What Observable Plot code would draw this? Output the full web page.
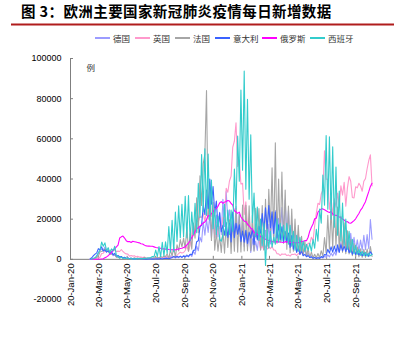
<!DOCTYPE html>
<html><head><meta charset="utf-8">
<script src="https://cdn.jsdelivr.net/npm/d3@7"></script>
<script src="https://cdn.jsdelivr.net/npm/@observablehq/plot@0.6"></script>
<style>
body{margin:0;background:#fff;}
#wrap{position:relative;width:394px;height:354px;overflow:hidden;background:#fff;}
#wrap > svg.chart{position:absolute;left:0;top:0;z-index:0;}
#title{position:absolute;left:21px;top:2px;font:bold 14.5px "Noto Sans CJK SC",sans-serif;letter-spacing:0.4px;color:#000;white-space:nowrap;z-index:2;line-height:18px;}
#rule{position:absolute;left:0;top:0;z-index:5;}
.lgl{position:absolute;top:37px;width:15px;height:2px;z-index:2;}
.lgt{position:absolute;top:32px;font:8.5px "Noto Sans CJK SC",sans-serif;color:#333;line-height:12px;white-space:nowrap;z-index:2;}
</style></head>
<body><div id="wrap"><div id="title">图 3：欧洲主要国家新冠肺炎疫情每日新增数据</div>
<svg id="rule" width="394" height="30"><line x1="11" x2="394" y1="24.5" y2="24.5" stroke="#b01c1c" stroke-width="2"/></svg></div>
<script>
// daily new cases (thousands), sampled every 3.5 days starting 2020-03-02
const seriesNames = ["德国","英国","法国","意大利","俄罗斯","西班牙"];
const seriesColors = ["#9c9cff","#ff99cc","#a6a6a6","#3a62ff","#ff00ff","#33cccc"];
const de = [
0.03,0.1, 0.2,0.8, 1.2,2.9, 4.5,5.0, 4.6,6.2, 3.7,4.9, 2.5,3.4, 1.8,2.3, 1.0,1.5, 0.7,1.2,
0.5,0.9, 0.3,0.6, 0.3,0.5, 0.2,0.4, 0.2,0.5, 0.4,0.8, 0.5,0.6, 0.3,0.5, 0.2,0.4, 0.2,0.5,
0.3,0.6, 0.4,0.9, 0.5,1.0, 0.6,1.4, 0.7,1.7, 0.7,1.5, 0.6,1.3, 0.8,1.5, 0.9,1.9, 0.9,2.2,
1.2,2.5, 1.4,4.0, 2.5,6.6, 4.3,11.0, 8.7,18.7, 12.0,19.9, 13.4,21.9, 10.8,23.6, 10.9,22.0, 11.2,23.4,
12.3,29.9, 16.4,33.8, 19.5,24.7, 10.9,22.9, 11.9,26.4, 12.5,22.4, 7.1,17.9, 6.4,14.0, 6.1,12.9, 3.4,10.2,
4.4,9.1, 4.4,11.8, 4.7,11.9, 5.0,14.4, 6.6,17.5, 7.7,22.6, 9.9,24.3, 8.5,20.4, 13.2,25.8, 11.4,29.5,
10.6,24.3, 7.5,18.0, 6.9,14.6, 5.4,12.3, 2.7,8.8, 2.7,5.1, 1.4,3.2, 0.9,1.8, 0.5,1.1, 0.5,0.9,
0.4,1.0, 0.6,1.5, 1.0,2.2, 1.2,3.1, 1.7,3.6, 2.1,5.6, 3.5,8.4, 4.4,11.6, 5.4,13.7, 5.9,13.0,
4.7,11.0, 4.6,9.7, 4.2,9.6, 4.6,12.0, 4.8,12.3, 5.3,19.8, 10.0];
const uk = [
0.01,0.05, 0.07,0.1, 0.4,0.7, 1.0,2.9, 3.0,4.3, 3.8,4.3, 4.3,4.6, 4.7,4.6, 3.9,4.1, 3.9,4.9,
3.9,3.2, 2.7,2.6, 1.6,1.9, 1.6,1.8, 1.2,1.5, 1.1,1.2, 0.9,1.1, 0.8,0.6, 0.5,0.6, 0.6,0.5,
0.6,0.8, 0.7,0.8, 0.9,0.9, 1.0,1.4, 0.8,1.2, 1.0,1.3, 1.3,1.9, 2.9,3.5, 3.1,3.4, 4.4,6.6,
4.0,6.9, 12.6,17.5, 13.9,18.9, 18.8,21.2, 20.9,23.0, 18.9,24.1, 21.3,33.5, 21.4,22.9, 11.3,17.5, 12.3,16.3,
14.7,20.9, 20.3,35.4, 33.4,39.0, 41.4,55.9, 58.8,68.0, 46.2,48.7, 37.5,37.9, 22.2,28.7, 16.8,20.6, 12.4,13.5,
9.8,12.1, 10.6,9.9, 5.5,6.6, 4.7,6.6, 5.1,6.3, 5.3,6.4, 4.7,4.5, 2.8,2.7, 1.9,2.7, 2.5,2.7,
1.9,2.2, 1.6,2.5, 2.4,2.7, 1.9,2.9, 2.4,3.5, 3.2,5.3, 5.7,8.1, 7.7,11.0, 9.3,16.7, 23.0,27.9,
27.3,32.6, 34.5,54.0, 39.9,39.9, 24.9,31.1, 21.9,30.2, 26.0,33.0, 26.7,36.6, 31.9,38.3, 26.5,35.7, 41.2,38.9,
30.8,30.6, 36.1,35.6, 37.9,36.5, 33.9,38.9, 40.2,45.1, 49.2,52.0, 36.6];
const fr = [
0.03,0.1, 0.3,0.6, 0.9,1.6, 3.8,3.9, 4.4,5.2, 3.9,4.3, 2.7,2.6, 2.5,2.2, 1.2,1.0, 0.6,1.2,
0.5,0.8, 0.3,0.6, 0.3,0.5, 0.3,0.8, 0.3,0.7, 0.2,0.5, 0.3,1.0, 0.4,0.7, 0.4,0.7, 0.5,0.8,
0.6,1.0, 0.7,1.4, 1.0,1.6, 1.4,2.7, 0.5,4.7, 1.6,6.1, 1.0,7.2, 4.2,9.8, 6.2,10.6, 5.3,16.1,
4.0,12.8, 5.0,18.1, 10.5,30.6, 13.2,41.6, 26.8,47.6, 52.5,84.0, 20.0,35.9, 9.4,28.4, 4.5,13.6, 4.0,12.0,
3.4,14.6, 3.0,18.2, 5.9,19.7, 2.9,20.0, 4.0,25.4, 3.6,22.4, 3.7,27.0, 4.2,26.9, 4.3,26.7, 4.3,22.0,
4.0,25.4, 10.5,25.3, 4.7,26.8, 4.7,29.9, 6.5,34.9, 14.3,45.6, 9.1,58.0, 8.0,40.0, 8.5,43.5, 8.0,34.5,
5.0,26.5, 3.3,25.0, 4.0,20.0, 3.5,17.0, 2.5,11.5, 1.9,9.0, 1.4,5.2, 0.9,3.6, 0.8,2.5, 0.8,2.9,
0.8,4.3, 1.5,10.9, 3.0,21.9, 5.2,25.0, 5.5,28.0, 6.6,26.0, 4.2,21.4, 3.5,18.2, 2.8,14.2, 2.7,10.0,
1.8,7.8, 1.5,6.1, 1.2,5.2, 1.0,5.0, 1.0,5.1, 1.3,6.4, 1.4];
const it = [
0.3,0.8, 1.8,2.6, 3.2,5.3, 4.8,6.2, 4.1,4.7, 3.6,4.2, 3.2,3.8, 2.3,3.0, 1.7,1.9, 1.2,1.4,
0.7,1.0, 0.45,0.65, 0.3,0.6, 0.2,0.3, 0.2,0.4, 0.3,0.3, 0.2,0.3, 0.1,0.2, 0.2,0.2, 0.1,0.2,
0.2,0.3, 0.2,0.4, 0.2,0.4, 0.5,0.5, 0.3,0.6, 0.9,1.4, 1.0,1.4, 1.1,1.6, 1.0,1.6, 1.4,1.8,
1.5,2.5, 2.3,4.5, 4.6,8.8, 9.3,16.1, 17.0,26.8, 22.3,34.5, 25.3,40.0, 27.4,36.2, 22.9,29.0, 16.4,23.2,
13.7,16.9, 12.0,18.2, 10.9,18.0, 8.6,23.5, 10.8,18.0, 12.5,17.2, 8.8,14.1, 8.5,14.4, 7.9,13.6, 10.6,15.1,
7.3,15.5, 9.6,16.4, 13.1,22.8, 13.9,25.7, 15.2,26.8, 15.7,23.7, 12.9,23.6, 10.7,17.2, 9.8,16.2, 8.9,13.9,
8.4,13.1, 5.9,11.8, 5.1,8.1, 3.5,5.7, 2.5,4.1, 1.8,2.5, 1.3,1.9, 0.9,1.2, 0.5,0.9, 0.4,0.8,
0.5,1.4, 0.9,2.4, 2.1,5.0, 3.1,6.2, 3.6,6.6, 3.6,7.2, 3.5,7.2, 4.2,6.6, 3.8,6.8, 3.3,5.2,
2.5,4.9, 2.4,4.0, 2.2,3.4, 1.8,3.2, 1.9,2.7, 1.6,3.8, 2.5];
const ru = [
0.0,0.0, 0.01,0.02, 0.03,0.05, 0.07,0.2, 0.3,0.8, 1.2,1.8, 2.6,3.4, 4.3,5.2, 6.2,7.1, 10.6,11.2,
11.6,10.6, 9.3,8.8, 8.9,8.4, 9.0,8.8, 8.6,8.4, 8.2,7.8, 7.6,7.1, 6.7,6.6, 6.6,6.5, 6.5,6.2,
5.9,5.8, 5.5,5.5, 5.2,5.2, 5.1,5.1, 4.9,4.8, 4.8,4.7, 4.7,5.0, 5.1,5.4, 5.5,5.9, 6.2,7.2,
8.1,9.4, 10.9,12.1, 13.9,15.2, 15.7,16.5, 17.3,18.1, 18.6,19.8, 21.8,21.6, 22.8,23.6, 25.0,25.3, 26.4,28.1,
28.7,27.9, 28.5,28.8, 29.3,29.0, 27.8,27.0, 24.2,23.6, 22.9,23.5, 21.1,20.0, 19.0,18.8, 17.5,16.7, 15.5,15.0,
13.5,12.8, 12.4,11.7, 11.4,11.0, 10.6,10.0, 9.6,9.4, 9.1,9.0, 8.6,8.8, 8.7,8.7, 8.6,8.5, 8.4,8.8,
8.7,8.6, 8.4,8.3, 8.5,8.2, 8.4,8.2, 8.6,8.9, 9.0,9.3, 9.3,11.0, 14.0,16.0, 17.6,20.2, 20.5,23.5,
24.4,25.1, 25.1,24.7, 24.2,23.7, 23.3,23.8, 22.6,22.1, 21.9,21.7, 21.1,20.8, 20.1,19.6, 18.6,18.8, 18.1,18.0,
18.6,19.3, 20.2,21.6, 22.8,24.5, 25.5,27.2, 28.7,31.3, 33.7,36.3, 37.9];
const es = [
0.05,0.1, 0.5,0.8, 1.8,3.4, 4.5,8.6, 6.5,8.2, 4.3,5.8, 3.3,5.2, 4.2,6.5, 2.0,1.3, 0.6,1.0,
0.5,0.6, 0.4,0.5, 0.2,0.4, 0.2,0.3, 0.2,0.4, 0.3,0.4, 0.3,0.4, 0.5,0.6, 0.8,0.9, 1.4,1.3,
4.6,1.4, 6.4,1.2, 8.5,1.7, 8.7,2.9, 16.3,3.7, 19.4,3.8, 23.6,8.9, 26.6,10.8, 27.4,11.3, 31.4,10.7,
31.8,9.4, 23.5,12.4, 27.9,13.3, 37.9,20.9, 52.2,23.6, 55.0,21.9, 52.4,19.5, 39.5,15.2, 25.4,12.3, 21.4,10.1,
9.0,12.0, 27.5,11.8, 24.5,12.4, 24.5,14.0, 45.0,25.0, 61.4,38.9, 84.3,44.4, 93.8,34.9, 79.7,29.9, 62.0,18.3,
33.0,11.4, 26.0,9.4, 20.0,6.7, 18.0,-3.0, 15.0,5.5, 14.0,6.0, 11.0,7.5, 20.0,8.5, 18.0,9.0, 17.0,9.4,
18.0,7.5, 17.0,6.5, 14.0,4.5, 12.0,4.0, 11.0,4.2, 9.0,4.0, 7.5,4.5, 8.0,4.0, 10.0,5.5, 15.0,9.0,
25.0,18.0, 42.0,27.0, 61.6,25.0, 61.0,20.0, 56.0,16.0, 46.0,12.0, 34.0,9.0, 28.0,7.0, 20.0,5.0, 14.0,3.5,
10.0,2.8, 7.0,2.5, 5.0,2.0, 4.0,1.8, 3.5,1.6, 3.0,1.8, 2.5];
const seriesValues = [de, uk, fr, it, ru, es];
const sampleStart = "2020-03-02";
const sampleStepDays = 3.5;
const xDomain = ["2020-01-20", "2021-10-26"];
const xTickLabels = ["2020-01-20","2020-03-20","2020-05-20","2020-07-20","2020-09-20","2020-11-20",
  "2021-01-20","2021-03-20","2021-05-20","2021-07-20","2021-09-20"];
const yTicks = [-20000, 0, 20000, 40000, 60000, 80000, 100000];
const unitLabel = "例";

const wrap = document.getElementById("wrap");
const legendLeft = [95, 135, 175, 215, 262, 310];
seriesNames.forEach((n, k) => {
  const l = document.createElement("div");
  l.className = "lgl"; l.style.left = legendLeft[k] + "px"; l.style.background = seriesColors[k];
  const t = document.createElement("div");
  t.className = "lgt"; t.style.left = (legendLeft[k] + 18) + "px"; t.textContent = n;
  wrap.appendChild(l); wrap.appendChild(t);
});

const parse = d3.utcParse("%Y-%m-%d");
const t0 = parse(sampleStart);
const rows = [];
seriesValues.forEach((vals, k) => vals.forEach((v, i) => rows.push({
  name: seriesNames[k], date: new Date(+t0 + i * sampleStepDays * 864e5), value: v * 1000
})));
const xStart = parse(xDomain[0]);
const xTicks = xTickLabels.map(parse);

const H = 354, MT = 58, MB = 55;
const axisShift = (H - MT - MB) * (0 - yTicks[0]) / (yTicks[yTicks.length - 1] - yTicks[0]);

const chart = Plot.plot({
  width: 394, height: H,
  marginLeft: 70, marginRight: 22, marginTop: MT, marginBottom: MB,
  x: {type: "utc", domain: xDomain.map(parse), label: null},
  y: {domain: [yTicks[0], yTicks[yTicks.length - 1]], label: null},
  style: {fontFamily: '"Liberation Sans", Arial, sans-serif', background: "transparent", color: "#000"},
  marks: [
    Plot.ruleY([0], {stroke: "#7f7f7f"}),
    Plot.ruleX([xStart], {y1: 0, y2: yTicks[yTicks.length - 1], stroke: "#7f7f7f"}),
    Plot.axisY({ticks: yTicks, tickSize: 0, tickPadding: 9, tickFormat: d => String(d), fontSize: 9, label: null}),
    Plot.axisY({ticks: yTicks.filter(d => d >= 0), tickSize: -3, tickFormat: () => "", stroke: "#7f7f7f", label: null}),
    Plot.axisX({ticks: xTicks, tickFormat: d3.utcFormat("%d-%b-%y"), tickRotate: -90, tickSize: 0, tickPadding: 4, dy: -axisShift, fontSize: 9.5, label: null}),
    Plot.axisX({ticks: xTicks, tickSize: -3, tickFormat: () => "", dy: -axisShift, stroke: "#7f7f7f", label: null}),
    ...seriesNames.map((n, k) => Plot.line(rows.filter(r => r.name === n), {x: "date", y: "value", stroke: seriesColors[k], strokeWidth: 1.1})),
    Plot.text([unitLabel], {frameAnchor: "top-left", dx: 16, dy: 6, fontSize: 8.5, fontFamily: "Noto Sans CJK SC", fill: "#333"})
  ]
});
chart.classList.add("chart");
wrap.insertBefore(chart, wrap.firstChild);
</script></body></html>
